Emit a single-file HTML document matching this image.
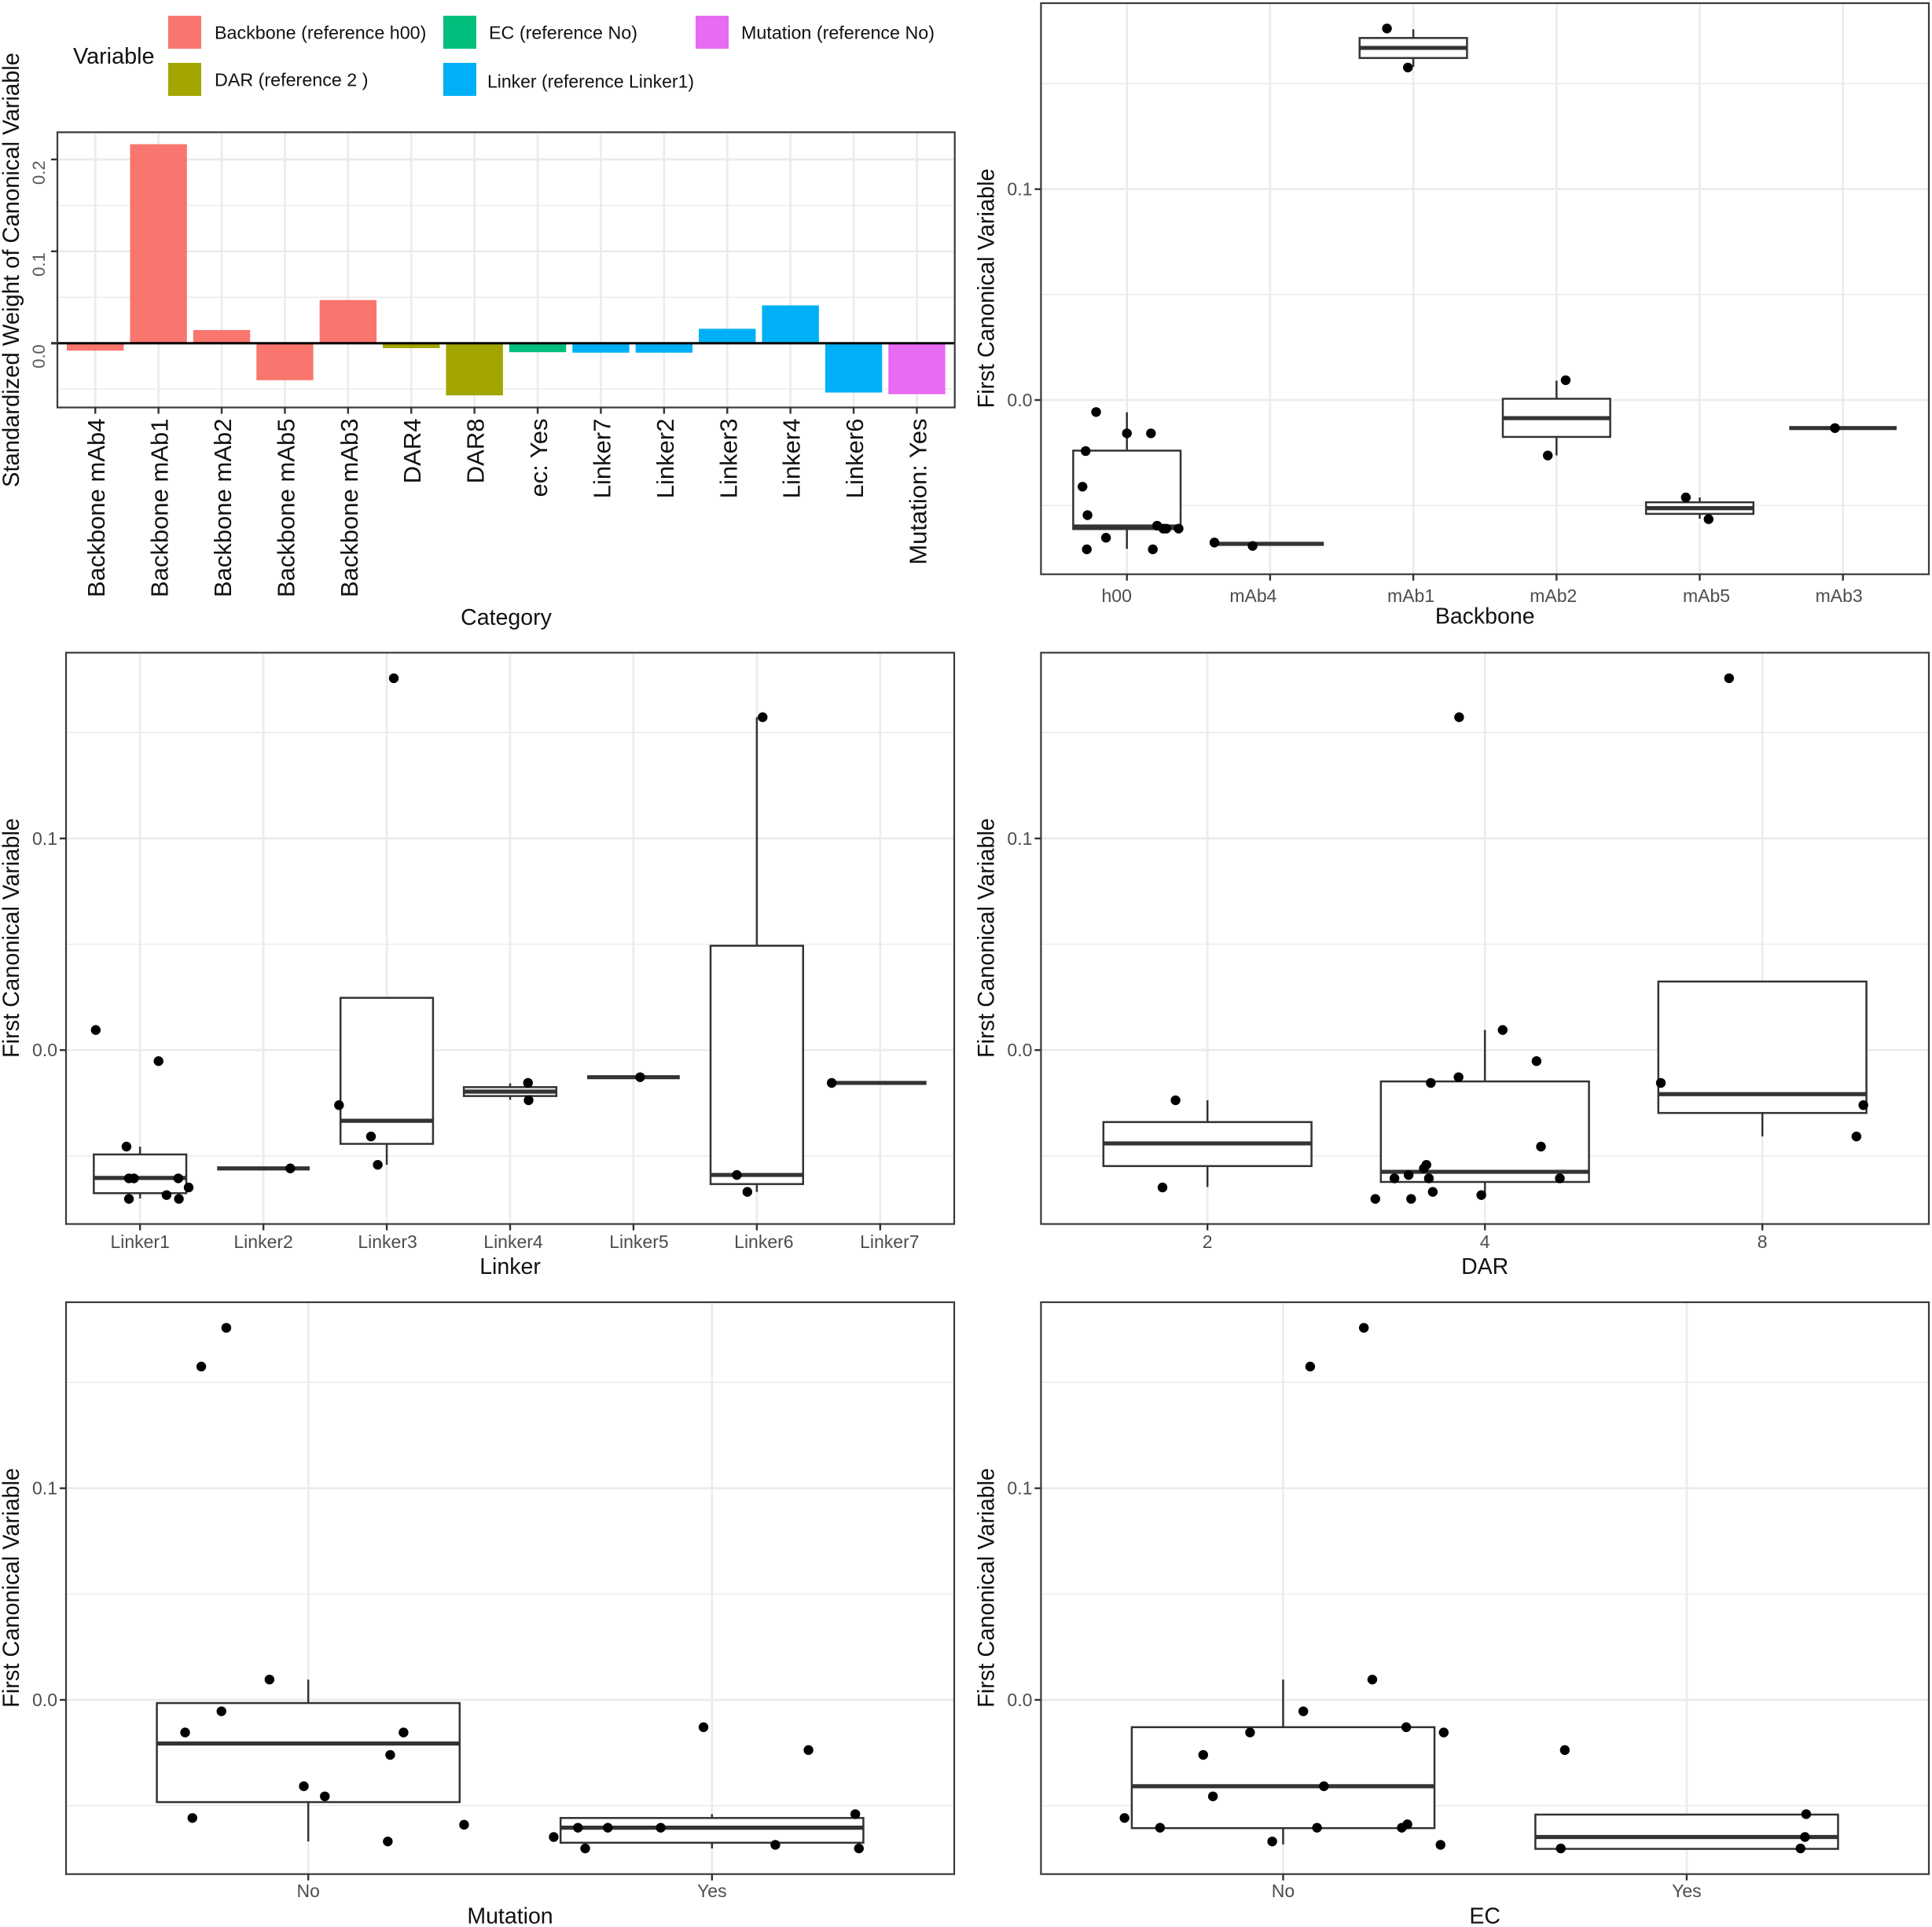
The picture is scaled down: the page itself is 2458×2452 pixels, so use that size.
<!DOCTYPE html>
<html lang="en">
<head>
<meta charset="utf-8">
<title>Canonical variable weights and distributions</title>
<style>
  html, body { margin: 0; padding: 0; background: #fff; }
  svg { display: block; font-family: "Liberation Sans", sans-serif; }
  .title { font-size: 28.5px; fill: #111; }
  .ytitle { font-size: 30px; fill: #111; }
  .tick { font-size: 23px; fill: #4d4d4d; }
  .legend-text { font-size: 23.3px; fill: #111; }
</style>
</head>
<body>
<svg id="chart" width="2458" height="2452" viewBox="0 0 2458 2452" xmlns="http://www.w3.org/2000/svg">
  <rect x="0" y="0" width="2458" height="2452" fill="#fff"/>
  <g>
    <text x="93" y="81" font-size="29" fill="#111" textLength="103.5" lengthAdjust="spacingAndGlyphs">Variable</text>
    <rect x="214" y="20" width="42" height="42" fill="#F8766D"/>
    <text class="legend-text" x="273" y="49.5">Backbone (reference h00)</text>
    <rect x="214" y="80" width="42" height="42" fill="#A3A500"/>
    <text class="legend-text" x="273" y="109.5">DAR (reference 2 )</text>
    <rect x="564" y="20" width="42" height="42" fill="#00BF7D"/>
    <text class="legend-text" x="622" y="49.5">EC (reference No)</text>
    <rect x="564" y="80" width="42" height="42" fill="#00B0F6"/>
    <text class="legend-text" x="620" y="111.5" textLength="263" lengthAdjust="spacingAndGlyphs">Linker (reference Linker1)</text>
    <rect x="885" y="20" width="42" height="42" fill="#E76BF3"/>
    <text class="legend-text" x="943" y="49.5">Mutation (reference No)</text>
  </g>
</svg>
<script>
// Bar chart data
const barCategories = ["Backbone mAb4","Backbone mAb1","Backbone mAb2","Backbone mAb5","Backbone mAb3","DAR4","DAR8","ec: Yes","Linker7","Linker2","Linker3","Linker4","Linker6","Mutation: Yes"];
const barValues = [-0.0081,0.2166,0.0143,-0.0403,0.047,-0.0054,-0.0568,-0.0098,-0.0103,-0.0103,0.0157,0.0412,-0.0537,-0.0555];
const barVariables = ["Backbone","Backbone","Backbone","Backbone","Backbone","DAR","DAR","EC","Linker","Linker","Linker","Linker","Linker","Mutation"];
const barTicks = [0, 0.1, 0.2];
const barMinorTicks = [-0.05, 0.05, 0.15];
const variableNames = ["Backbone","DAR","EC","Linker","Mutation"];
const variableColors = ["#F8766D","#A3A500","#00BF7D","#00B0F6","#E76BF3"];

// Shared box-plot axis ticks
const boxTicks = [0, 0.1];
const boxMinorTicks = [-0.05, 0.05, 0.15];

// Backbone panel
const backboneCategories = ["h00","mAb4","mAb1","mAb2","mAb5","mAb3"];
const backboneWhiskerHigh = [-0.0058,-0.0682,0.1758,0.0092,-0.0462,-0.0133];
const backboneQ3 = [-0.024,-0.0682,0.1717,0.0006,-0.0485,-0.0133];
const backboneMedian = [-0.06,-0.0682,0.167,-0.0086,-0.0513,-0.0133];
const backboneQ1 = [-0.0612,-0.0682,0.1622,-0.0175,-0.054,-0.0133];
const backboneWhiskerLow = [-0.0706,-0.0682,0.158,-0.0263,-0.0563,-0.0133];
const backbonePointCat = [-0.215,0,0.168,-0.288,-0.31,-0.275,0.211,0.254,0.275,0.361,-0.146,-0.28,0.181,0.611,0.878,1.816,1.962,3.064,2.939,3.903,4.062,4.944];
const backbonePointVal = [-0.0057,-0.0158,-0.0158,-0.0242,-0.0411,-0.0546,-0.0596,-0.061,-0.061,-0.061,-0.0653,-0.0708,-0.0708,-0.0676,-0.0692,0.1762,0.1577,0.0094,-0.0263,-0.0462,-0.0565,-0.0133];

// Linker panel
const linkerCategories = ["Linker1","Linker2","Linker3","Linker4","Linker5","Linker6","Linker7"];
const linkerWhiskerHigh = [-0.0456,-0.0559,0.0247,-0.0157,-0.0128,0.1573,-0.0155];
const linkerQ3 = [-0.0493,-0.0559,0.0247,-0.0175,-0.0128,0.0493,-0.0155];
const linkerMedian = [-0.0604,-0.0559,-0.0334,-0.0196,-0.0128,-0.059,-0.0155];
const linkerQ1 = [-0.0676,-0.0559,-0.0443,-0.0217,-0.0128,-0.0633,-0.0155];
const linkerWhiskerLow = [-0.0701,-0.0559,-0.0542,-0.0235,-0.0128,-0.067,-0.0155];
const linkerPointCat = [-0.359,0.15,-0.11,-0.09,-0.05,0.31,0.394,0.215,-0.09,0.315,1.218,2.057,1.613,1.872,1.927,3.145,3.15,4.054,5.047,4.838,4.923,5.607];
const linkerPointVal = [0.0095,-0.0052,-0.0456,-0.0606,-0.0606,-0.0606,-0.0649,-0.0685,-0.0703,-0.0703,-0.0559,0.1757,-0.026,-0.0408,-0.0542,-0.0155,-0.0237,-0.0128,0.1573,-0.059,-0.067,-0.0155];

// DAR panel
const darCategories = ["2","4","8"];
const darWhiskerHigh = [-0.0237,0.0095,0.0324];
const darQ3 = [-0.034,-0.0148,0.0324];
const darMedian = [-0.0441,-0.0575,-0.0208];
const darQ1 = [-0.0548,-0.0623,-0.0297];
const darWhiskerLow = [-0.0647,-0.0685,-0.0408];
const darPointCat = [-0.115,-0.162,0.907,1.064,1.186,0.905,0.805,1.202,0.789,0.78,0.725,0.674,0.798,1.27,0.812,0.987,0.605,0.734,1.88,1.634,2.364,2.339];
const darPointVal = [-0.0237,-0.0649,0.1573,0.0095,-0.0052,-0.0128,-0.0155,-0.0456,-0.0542,-0.0559,-0.059,-0.0606,-0.0606,-0.0606,-0.067,-0.0685,-0.0703,-0.0703,0.1757,-0.0155,-0.026,-0.0408];

// Mutation panel
const mutationCategories = ["No","Yes"];
const mutationWhiskerHigh = [0.0096,-0.054];
const mutationQ3 = [-0.0015,-0.0558];
const mutationMedian = [-0.0206,-0.0604];
const mutationQ1 = [-0.0483,-0.0675];
const mutationWhiskerLow = [-0.0669,-0.0702];
const mutationPointCat = [-0.203,-0.265,-0.096,-0.215,-0.305,0.236,0.203,-0.011,0.041,-0.287,0.386,0.197,0.979,1.239,1.355,0.608,0.668,0.742,0.873,0.686,1.157,1.364];
const mutationPointVal = [0.1758,0.1575,0.0096,-0.0054,-0.0154,-0.0154,-0.026,-0.0408,-0.0456,-0.0558,-0.059,-0.0669,-0.0129,-0.0237,-0.054,-0.0648,-0.0604,-0.0604,-0.0604,-0.0702,-0.0685,-0.0702];

// EC panel
const ecCategories = ["No","Yes"];
const ecWhiskerHigh = [0.0096,-0.0542];
const ecQ3 = [-0.0129,-0.0542];
const ecMedian = [-0.0408,-0.0648];
const ecQ1 = [-0.0606,-0.0704];
const ecWhiskerLow = [-0.0683,-0.0704];
const ecPointCat = [0.2,0.067,0.221,0.05,-0.082,0.398,0.305,-0.198,0.101,-0.174,-0.393,-0.305,0.084,0.294,0.308,-0.027,0.39,0.698,1.296,1.293,0.688,1.282];
const ecPointVal = [0.1758,0.1575,0.0096,-0.0054,-0.0154,-0.0154,-0.0129,-0.026,-0.0408,-0.0456,-0.0558,-0.0604,-0.0604,-0.0604,-0.0588,-0.0669,-0.0685,-0.0237,-0.054,-0.0648,-0.0702,-0.0702];

const NS = "http://www.w3.org/2000/svg";
const root = document.getElementById("chart");

function add(parent, tag, attrs, text) {
  const el = document.createElementNS(NS, tag);
  for (const k in attrs) el.setAttribute(k, attrs[k]);
  if (text !== undefined) el.textContent = text;
  parent.appendChild(el);
  return el;
}

function drawFrame(parent, g, key) {
  const border = add(parent, "rect", {x: g.left, y: g.top, width: g.right - g.left, height: g.bottom - g.top, fill: "none", stroke: "#3a3a3a", "stroke-width": 2.2});
  
  
}

function drawGrid(parent, g, key, majors, minors, xs, yFn) {
  const grid = add(parent, "g", {});
  
  
  minors.forEach(function (v) {
    const l = add(grid, "line", {x1: g.left, x2: g.right, y1: yFn(v), y2: yFn(v), stroke: "#ebebeb", "stroke-width": 1.5});
    
    
  });
  majors.forEach(function (v) {
    const l = add(grid, "line", {x1: g.left, x2: g.right, y1: yFn(v), y2: yFn(v), stroke: "#ebebeb", "stroke-width": 2.7});
    
    
  });
  xs.forEach(function (x) {
    const l = add(grid, "line", {x1: x, x2: x, y1: g.top, y2: g.bottom, stroke: "#ebebeb", "stroke-width": 2.6});
    
    
  });
}

function drawBarPanel() {
  const g = {left: 73, right: 1214.7, top: 168.3, bottom: 518.5, y0: 436.7, perUnit: 1169};
  const step = (g.right - g.left) / (barCategories.length + 0.2);
  const xFn = function (i) { return g.left + (i + 0.6) * step; };
  const yFn = function (v) { return g.y0 - v * g.perUnit; };
  const panel = add(root, "g", {});
  
  
  drawGrid(panel, g, "weights", barTicks, barMinorTicks, barCategories.map(function (c, i) { return xFn(i); }), yFn);
  barCategories.forEach(function (cat, i) {
    const v = barValues[i];
    const w = step * 0.9;
    const bar = add(panel, "rect", {x: xFn(i) - w / 2, y: Math.min(yFn(v), yFn(0)), width: w, height: Math.abs(yFn(v) - yFn(0)), fill: variableColors[variableNames.indexOf(barVariables[i])]});
    
    
  });
  const zero = add(panel, "line", {x1: g.left - 8, x2: g.right, y1: yFn(0), y2: yFn(0), stroke: "#000", "stroke-width": 3});
  
  
  drawFrame(panel, g, "weights");
  barTicks.forEach(function (v) {
    const y = yFn(v);
    const t = add(panel, "line", {x1: g.left - 8, x2: g.left, y1: y, y2: y, stroke: "#333", "stroke-width": 2.4});
    
    
    const ly = y + 1.5;
    const lbl = add(panel, "text", {x: 57, y: ly, "font-size": 22, fill: "#5a5a5a", "text-anchor": "end", transform: "rotate(-90 57 " + ly + ")"}, v.toFixed(1));
    
    
  });
  barCategories.forEach(function (cat, i) {
    const x = xFn(i);
    const t = add(panel, "line", {x1: x, x2: x, y1: g.bottom, y2: g.bottom + 8, stroke: "#333", "stroke-width": 2.4});
    
    
    const bx = x + 12;
    const lbl = add(panel, "text", {x: bx, y: 532.5, "text-anchor": "end", "font-size": 31, fill: "#111", transform: "rotate(-90 " + bx + " 532.5)"}, cat);
    
    
  });
  const xt = add(panel, "text", {class: "title", x: 644, y: 795, "text-anchor": "middle"}, "Category");
  
  
  const yt = add(panel, "text", {class: "ytitle", x: 24, y: 343.5, "text-anchor": "middle", textLength: 553, lengthAdjust: "spacingAndGlyphs", transform: "rotate(-90 24 343.5)"}, "Standardized Weight of Canonical Variable");
  
  
}

function drawBoxPanel(c) {
  const g = c.geom;
  const key = c.key;
  const step = (g.right - g.left) / (c.categories.length + 0.2);
  const xFn = function (i) { return g.left + (i + 0.6) * step; };
  const yFn = function (v) { return g.y0 - v * g.perUnit; };
  const panel = add(root, "g", {});
  
  
  drawGrid(panel, g, key, boxTicks, boxMinorTicks, c.categories.map(function (n, i) { return xFn(i); }), yFn);
  c.categories.forEach(function (cat, i) {
    const x = xFn(i);
    const w = step * 0.75;
    const box = add(panel, "g", {});
    
    
    const wh = add(box, "line", {x1: x, x2: x, y1: yFn(c.whiskerHigh[i]), y2: yFn(c.q3[i]), stroke: "#333", "stroke-width": 2.5});
    
    
    const wl = add(box, "line", {x1: x, x2: x, y1: yFn(c.q1[i]), y2: yFn(c.whiskerLow[i]), stroke: "#333", "stroke-width": 2.5});
    
    
    const r = add(box, "rect", {x: x - w / 2, y: yFn(c.q3[i]), width: w, height: yFn(c.q1[i]) - yFn(c.q3[i]), fill: "#fff", stroke: "#333", "stroke-width": 2.5});
    
    
    const m = add(box, "line", {x1: x - w / 2, x2: x + w / 2, y1: yFn(c.median[i]), y2: yFn(c.median[i]), stroke: "#333", "stroke-width": 5.2});
    
    
  });
  c.pointCat.forEach(function (cv, i) {
    const p = add(panel, "circle", {cx: xFn(cv), cy: yFn(c.pointVal[i]), r: 6.2, fill: "#000"});
    
    
  });
  drawFrame(panel, g, key);
  boxTicks.forEach(function (v) {
    const y = yFn(v);
    const t = add(panel, "line", {x1: g.left - 8, x2: g.left, y1: y, y2: y, stroke: "#333", "stroke-width": 2.4});
    
    
    const lbl = add(panel, "text", {class: "tick", x: g.left - 11, y: y + 8, "text-anchor": "end"}, v.toFixed(1));
    
    
  });
  c.categories.forEach(function (cat, i) {
    const x = xFn(i);
    const t = add(panel, "line", {x1: x, x2: x, y1: g.bottom, y2: g.bottom + 8, stroke: "#333", "stroke-width": 2.4});
    
    
    const nudge = c.nudge ? c.nudge[i] : 0;
    const lbl = add(panel, "text", {class: "tick", x: x + nudge, y: c.tickBase, "text-anchor": "middle"}, cat);
    
    
  });
  const cx = (g.left + g.right) / 2;
  const xt = add(panel, "text", {class: "title", x: cx, y: c.titleBase, "text-anchor": "middle"}, c.xTitle);
  
  
  const cy = (g.top + g.bottom) / 2 - 0.5;
  const yt = add(panel, "text", {class: "ytitle", x: c.yTitleX, y: cy, "text-anchor": "middle", textLength: 305, lengthAdjust: "spacingAndGlyphs", transform: "rotate(-90 " + c.yTitleX + " " + cy + ")"}, "First Canonical Variable");
  
  
}

drawBarPanel();

drawBoxPanel({
  key: "backbone", xTitle: "Backbone", categories: backboneCategories,
  whiskerHigh: backboneWhiskerHigh, q3: backboneQ3, median: backboneMedian, q1: backboneQ1, whiskerLow: backboneWhiskerLow,
  pointCat: backbonePointCat, pointVal: backbonePointVal,
  geom: {left: 1324.4, right: 2454, top: 4, bottom: 730.7, y0: 509, perUnit: 2683},
  tickBase: 766, titleBase: 793.5, yTitleX: 1264.5, nudge: [-13, -21.5, -3, -4, 8.5, -5]
});
drawBoxPanel({
  key: "linker", xTitle: "Linker", categories: linkerCategories,
  whiskerHigh: linkerWhiskerHigh, q3: linkerQ3, median: linkerMedian, q1: linkerQ1, whiskerLow: linkerWhiskerLow,
  pointCat: linkerPointCat, pointVal: linkerPointVal,
  geom: {left: 84, right: 1214, top: 830.5, bottom: 1557.5, y0: 1336.2, perUnit: 2693},
  tickBase: 1588, titleBase: 1621, yTitleX: 24, nudge: [0, 0, 1, 4, 7, 9, 12]
});
drawBoxPanel({
  key: "dar", xTitle: "DAR", categories: darCategories,
  whiskerHigh: darWhiskerHigh, q3: darQ3, median: darMedian, q1: darQ1, whiskerLow: darWhiskerLow,
  pointCat: darPointCat, pointVal: darPointVal,
  geom: {left: 1324.4, right: 2454, top: 830.5, bottom: 1557.5, y0: 1336.2, perUnit: 2693},
  tickBase: 1588, titleBase: 1621, yTitleX: 1264.5
});
drawBoxPanel({
  key: "mutation", xTitle: "Mutation", categories: mutationCategories,
  whiskerHigh: mutationWhiskerHigh, q3: mutationQ3, median: mutationMedian, q1: mutationQ1, whiskerLow: mutationWhiskerLow,
  pointCat: mutationPointCat, pointVal: mutationPointVal,
  geom: {left: 84, right: 1214, top: 1657, bottom: 2384.7, y0: 2163, perUnit: 2693},
  tickBase: 2414, titleBase: 2447.5, yTitleX: 24
});
drawBoxPanel({
  key: "ec", xTitle: "EC", categories: ecCategories,
  whiskerHigh: ecWhiskerHigh, q3: ecQ3, median: ecMedian, q1: ecQ1, whiskerLow: ecWhiskerLow,
  pointCat: ecPointCat, pointVal: ecPointVal,
  geom: {left: 1324.4, right: 2454, top: 1657, bottom: 2384.7, y0: 2163, perUnit: 2693},
  tickBase: 2414, titleBase: 2447.5, yTitleX: 1264.5
});
</script>
</body>
</html>
